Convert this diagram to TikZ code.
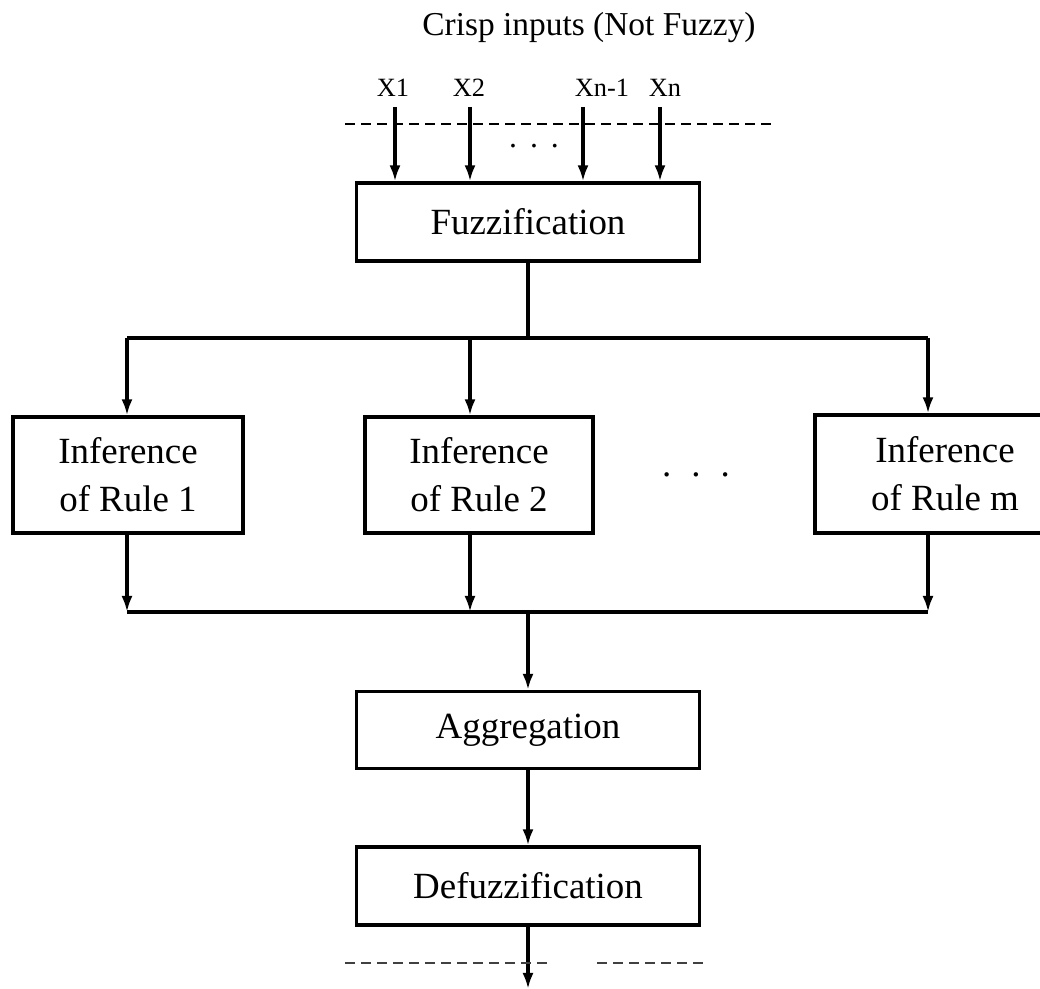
\documentclass[tikz,border=0pt]{standalone}
\usepackage{fontspec}
\setmainfont{Liberation Serif}
\usetikzlibrary{arrows.meta}

\begin{document}
\begin{tikzpicture}[x=0.01cm,y=-0.01cm,line width=0.9pt,
    box/.style={draw,rectangle,align=center,inner sep=0pt,font=\fontsize{10.5}{13.6}\selectfont},
    arr/.style={-{Latex[length=1.6mm,width=1.1mm]}},
    inlabel/.style={font=\fontsize{7.5}{9}\selectfont,inner sep=1pt},
    border/.style={dash pattern=on 1mm off 0.6mm,line width=0.6pt}]

    % fix the page size
    \useasboundingbox (0,0) rectangle (1040,989);

    % title
    \node[font=\fontsize{9.5}{11}\selectfont] (title) at (589,28) {Crisp inputs (Not Fuzzy)};

    % boxes
    \node[box,minimum width=3.42cm,minimum height=0.78cm] (fuzz) at (528,222) {Fuzzification};
    \node[box,minimum width=2.30cm,minimum height=1.16cm] (rule1) at (128,475) {Inference\\of Rule 1};
    \node[box,minimum width=2.28cm,minimum height=1.16cm] (rule2) at (479,475) {Inference\\of Rule 2};
    % the right edge of this one runs off the page
    \node[box,minimum width=2.60cm,minimum height=1.18cm] (rulem) at (945,474) {Inference\\of Rule m};
    \node[box,minimum width=3.43cm,minimum height=0.77cm] (agg) at (528,730) {Aggregation};
    \node[box,minimum width=3.43cm,minimum height=0.78cm] (defuzz) at (528,886) {Defuzzification};

    % dots between the rules and between the inputs
    \node[font=\fontsize{10.5}{12}\selectfont] (rdots) at (696,475) {.\hspace{0.2cm}.\hspace{0.2cm}.};
    \node[font=\fontsize{9}{11}\selectfont] (idots) at (534,146) {.\hspace{0.13cm}.\hspace{0.13cm}.};

    % crisp inputs
    \foreach \i/\x/\dx/\lbl in {1/395/-2/X1, 2/470/-1/X2, 3/583/19/Xn-1, 4/660/5/Xn} {
        \node[inlabel] (lbl\i) at (\x+\dx,88) {\lbl};
        \coordinate (in\i) at (\x,107);
        \draw[arr] (in\i) -- (in\i |- fuzz.north);
    }

    % input border
    \coordinate (bl) at (345,124);
    \coordinate (br) at (775,124);
    \draw[border] (bl) -- (br);

    % fuzzification to the rules
    \coordinate (top1) at (127,338);
    \coordinate (top2) at (470,338);
    \coordinate (topm) at (928,338);
    \draw (fuzz.south) -- (fuzz.south |- top1);
    \draw (top1) -- (topm);
    \foreach \r/\t in {rule1/top1, rule2/top2, rulem/topm}
        \draw[arr] (\t) -- (\t |- \r.north);

    % rules to aggregation
    \coordinate (bot1) at (127,612);
    \coordinate (bot2) at (470,612);
    \coordinate (botm) at (928,612);
    \foreach \r/\b in {rule1/bot1, rule2/bot2, rulem/botm}
        \draw[arr] (\b |- \r.south) -- (\b);
    \draw (bot1) -- (botm);
    \draw[arr] (fuzz.south |- bot1) -- (agg.north);
    \draw[arr] (agg) -- (defuzz);

    % crisp output
    \coordinate (out) at (528,989);
    \draw[arr] (defuzz.south) -- (out);
    \coordinate (ol) at (345,963);
    \coordinate (om) at (550,963);
    \coordinate (on) at (597,963);
    \coordinate (or) at (705,963);
    \draw[border,line width=0.5pt,black!75] (ol) -- (om) (on) -- (or);
\end{tikzpicture}
\end{document}
